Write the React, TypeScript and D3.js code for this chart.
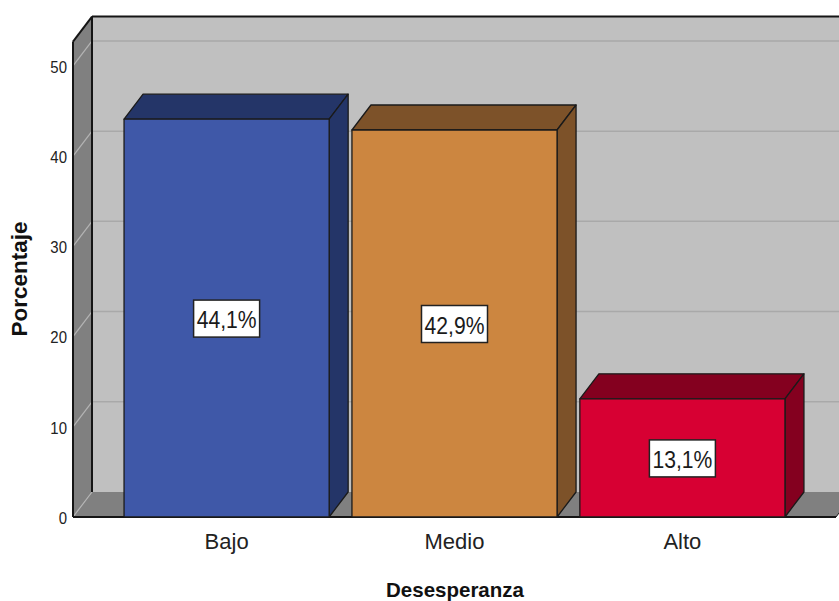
import * as React from "react";
import * as d3 from "d3";

const categories = ["Bajo", "Medio", "Alto"];
const percentages = [44.1, 42.9, 13.1];
const valueLabels = ["44,1%", "42,9%", "13,1%"];
const yTickValues = [0, 10, 20, 30, 40, 50];
const frontColors = ["#3F58A8", "#CC8640", "#D70033"];
const sideColors = ["#243568", "#7D5229", "#84001F"];

const width = 839;
const height = 601;
const DX = 19;
const DY = -25;
const FONT = "'Liberation Sans', Arial, sans-serif";

function App() {
  const yScale = d3.scaleLinear().domain([0, 52.7]).range([517, 41.6]);
  const xScale = d3
    .scaleBand<string>()
    .domain(categories)
    .range([73, 836])
    .paddingInner(0.1)
    .paddingOuter(0.224);

  const y0 = yScale(0);
  const yTop = yScale(52.7);
  const xL = 73;
  const xR = 836;
  const pts = (p: [number, number][]) => p.map((d) => d.join(",")).join(" ");

  return (
    <svg
      width={width}
      height={height}
      style={{ position: "absolute", left: 0, top: 0, background: "#fff" }}
    >
      {/* walls */}
      <rect
        x={xL + DX}
        y={yTop + DY}
        width={xR - xL + 10}
        height={y0 - yTop}
        fill="#C0C0C0"
      />
      <polygon
        points={pts([
          [xL, yTop],
          [xL + DX, yTop + DY],
          [xL + DX, y0 + DY],
          [xL, y0],
        ])}
        fill="#808080"
      />
      <polygon
        points={pts([
          [xL, y0],
          [xL + DX, y0 + DY],
          [xR + DX, y0 + DY],
          [xR, y0],
        ])}
        fill="#808080"
      />
      {/* gridlines */}
      {yTickValues.map((t) => (
        <g key={t}>
          <line
            x1={xL}
            y1={yScale(t)}
            x2={xL + DX}
            y2={yScale(t) + DY}
            stroke="#B4B4B4"
            strokeWidth={1.2}
          />
          {t > 0 && (
            <line
              x1={xL + DX}
              y1={yScale(t) + DY}
              x2={xR + DX + 10}
              y2={yScale(t) + DY}
              stroke="#A9A9A9"
              strokeWidth={1.5}
            />
          )}
        </g>
      ))}
      {/* wall outlines */}
      <g stroke="#151515" strokeWidth={2} fill="none">
        <line x1={xL} y1={yTop} x2={xL} y2={y0} />
        <line x1={xL} y1={yTop} x2={xL + DX} y2={yTop + DY} />
        <line x1={xL + DX} y1={yTop + DY} x2={xR + DX + 10} y2={yTop + DY} />
        <line x1={xL + DX} y1={yTop + DY} x2={xL + DX} y2={y0 + DY} />
        <line x1={xL} y1={y0} x2={xR} y2={y0} />
        <line x1={xR} y1={y0} x2={xR + DX} y2={y0 + DY} strokeWidth={1} />
      </g>
      {/* bars */}
      {categories.map((c, i) => {
        const x = xScale(c) as number;
        const w = xScale.bandwidth();
        const y = yScale(percentages[i]);
        return (
          <g key={c} stroke="#1a1a1a" strokeWidth={1.3} strokeLinejoin="round">
            <polygon
              points={pts([
                [x, y],
                [x + DX, y + DY],
                [x + w + DX, y + DY],
                [x + w, y],
              ])}
              fill={sideColors[i]}
            />
            <polygon
              points={pts([
                [x + w, y],
                [x + w + DX, y + DY],
                [x + w + DX, y0 + DY],
                [x + w, y0],
              ])}
              fill={sideColors[i]}
            />
            <rect x={x} y={y} width={w} height={y0 - y} fill={frontColors[i]} />
          </g>
        );
      })}
      {/* value labels */}
      {categories.map((c, i) => {
        const cx = (xScale(c) as number) + xScale.bandwidth() / 2;
        const cy = (yScale(percentages[i]) + y0) / 2;
        return (
          <g key={c} transform={`translate(${cx},${cy})`}>
            <rect
              x={-33}
              y={-18}
              width={66}
              height={37}
              fill="#fff"
              stroke="#222"
              strokeWidth={1.5}
            />
            <text
              transform="scale(0.88,1)"
              textAnchor="middle"
              y={10}
              fontFamily={FONT}
              fontSize={24}
              fill="#1a1a1a"
            >
              {valueLabels[i]}
            </text>
          </g>
        );
      })}
      {/* y tick labels */}
      {yTickValues.map((t) => (
        <text
          key={t}
          transform={`translate(67,${yScale(t)}) scale(0.88,1)`}
          dy="0.4em"
          textAnchor="end"
          fontFamily={FONT}
          fontSize={17}
          fill="#222"
        >
          {t}
        </text>
      ))}
      {/* category labels */}
      {categories.map((c) => (
        <text
          key={c}
          x={(xScale(c) as number) + xScale.bandwidth() / 2}
          y={549}
          textAnchor="middle"
          fontFamily={FONT}
          fontSize={22}
          fill="#222"
        >
          {c}
        </text>
      ))}
      {/* axis titles */}
      <text
        x={455}
        y={597}
        textAnchor="middle"
        fontFamily={FONT}
        fontSize={20.5}
        fontWeight="bold"
        fill="#111"
      >
        Desesperanza
      </text>
      <text
        transform="translate(27,279) rotate(-90)"
        textAnchor="middle"
        fontFamily={FONT}
        fontSize={22.5}
        fontWeight="bold"
        fill="#111"
      >
        Porcentaje
      </text>
    </svg>
  );
}

export default App;
